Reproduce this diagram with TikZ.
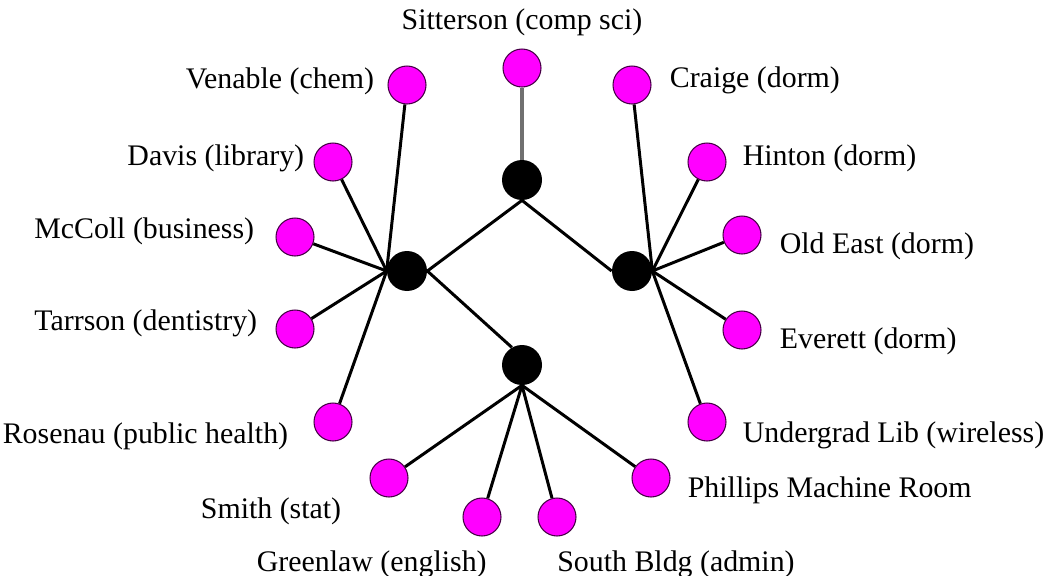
\documentclass[tikz,border=0pt]{standalone}
\usepackage{fontspec}
\setmainfont{Liberation Serif}
\usetikzlibrary{positioning}

\definecolor{rim}{RGB}{70,0,70}
\definecolor{fuchsia}{RGB}{255,0,255}
\definecolor{trunk}{RGB}{112,112,112}

\begin{document}
\begin{tikzpicture}[x=0.02cm,y=-0.02cm,
    site/.style={circle,fill=fuchsia,draw=rim,line width=0.6pt,minimum size=0.76cm,inner sep=0pt},
    hub/.style={circle,fill=black,minimum size=0.8cm,inner sep=0pt},
    bldg/.style={inner sep=0pt,font=\fontsize{17}{20}\selectfont},
    wire/.style={draw,line width=1.7pt}]
  \useasboundingbox (0,0) rectangle (1048,575);

  % routers
  \node[hub] (top)    at (522,180) {};
  \node[hub] (left)   at (407,271) {};
  \node[hub] (right)  at (632,271) {};
  \node[hub] (bottom) at (522,365) {};

  % buildings
  \node[site] (sitterson) at (522,68)  {};
  \node[site] (venable)   at (407,85)  {};
  \node[site] (davis)     at (333,162) {};
  \node[site] (mccoll)    at (295,237) {};
  \node[site] (tarrson)   at (295,329) {};
  \node[site] (rosenau)   at (333,422) {};
  \node[site] (smith)     at (389,478) {};
  \node[site] (greenlaw)  at (482,517) {};
  \node[site] (southbldg) at (557,517) {};
  \node[site] (phillips)  at (651,478) {};
  \node[site] (undergrad) at (707,422) {};
  \node[site] (everett)   at (742,330) {};
  \node[site] (oldeast)   at (742,235) {};
  \node[site] (hinton)    at (707,162) {};
  \node[site] (craige)    at (632,85)  {};

  % names
  \node[bldg] (sittersonL) [above=0.25cm of sitterson]              {Sitterson (comp sci)};
  \node[bldg] (venableL)   [left=0.26cm of venable, yshift=0.08cm]  {Venable (chem)};
  \node[bldg] (davisL)     [left=0.18cm of davis, yshift=0.08cm]    {Davis (library)};
  \node[bldg] (mccollL)    [left=0.42cm of mccoll, yshift=0.12cm]   {McColl (business)};
  \node[bldg] (tarrsonL)   [left=0.36cm of tarrson, yshift=0.12cm]  {Tarrson (dentistry)};
  \node[bldg] (rosenauL)   [left=0.5cm of rosenau, yshift=-0.28cm]  {Rosenau (public health)};
  \node[bldg] (smithL)     [left=0.56cm of smith, yshift=-0.66cm]   {Smith (stat)};
  \node[bldg] (greenlawL)  [below=0.27cm of greenlaw.south, anchor=north east, xshift=0.1cm] {Greenlaw (english)};
  \node[bldg] (southbldgL) [below=0.27cm of southbldg.south, anchor=north west] {South Bldg (admin)};
  \node[bldg] (phillipsL)  [right=0.34cm of phillips, yshift=-0.24cm]  {Phillips Machine Room};
  \node[bldg] (undergradL) [right=0.32cm of undergrad, yshift=-0.26cm] {Undergrad Lib (wireless)};
  \node[bldg] (everettL)   [right=0.36cm of everett, yshift=-0.22cm]   {Everett (dorm)};
  \node[bldg] (oldeastL)   [right=0.36cm of oldeast, yshift=-0.22cm]   {Old East (dorm)};
  \node[bldg] (hintonL)    [right=0.32cm of hinton, yshift=0.08cm]     {Hinton (dorm)};
  \node[bldg] (craigeL)    [right=0.36cm of craige, yshift=0.1cm]      {Craige (dorm)};

  \draw[trunk, line width=2pt] (sitterson) -- (top.north);
  \path[wire] (top.south)  edge (left.east)  edge (right.west)
        (left.east)  edge (bottom.120)
        (venable)    edge (left.west)  (davis)    edge (left.west)
        (mccoll)     edge (left.west)  (tarrson)  edge (left.west)
        (rosenau)    edge (left.west)
        (smith)      edge (bottom.south) (greenlaw) edge (bottom.south)
        (southbldg)  edge (bottom.south) (phillips) edge (bottom.south)
        (craige)     edge (right.east) (hinton)   edge (right.east)
        (oldeast)    edge (right.east) (everett)  edge (right.east)
        (undergrad)  edge (right.east);
\end{tikzpicture}
\end{document}
